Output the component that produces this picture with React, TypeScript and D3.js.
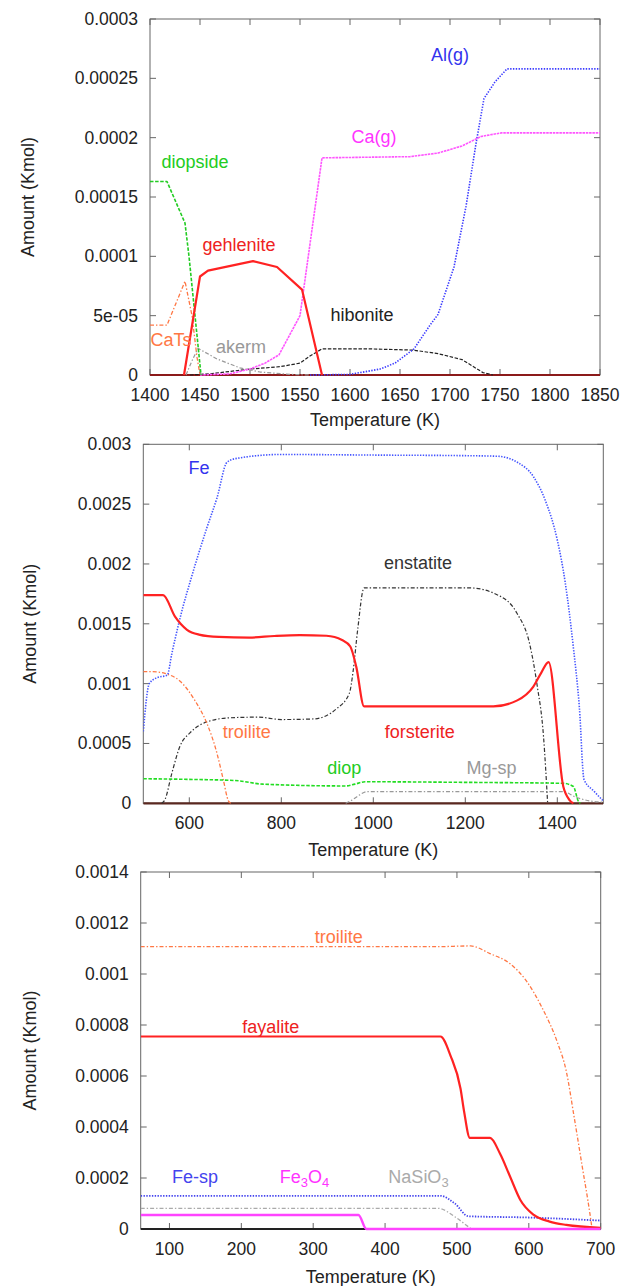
import React from 'react';
import * as d3 from 'd3';

type Pt = [number, number];

// ---------- Top panel (1400-1850 K) ----------
const topXTicks = [1400, 1450, 1500, 1550, 1600, 1650, 1700, 1750, 1800, 1850];
const topYTicks = [0, 5e-5, 1e-4, 1.5e-4, 2e-4, 2.5e-4, 3e-4];
const topYTickLabels = ['0', '5e-05', '0.0001', '0.00015', '0.0002', '0.00025', '0.0003'];

const topAlG: Pt[] = [[1560, 0], [1600, 5e-7], [1630, 5e-6], [1645, 1e-5], [1664, 2.2e-5], [1680, 4.2e-5], [1688, 5.1e-5], [1704, 9.1e-5], [1716, 1.42e-4], [1726, 1.95e-4], [1734, 2.33e-4], [1745, 2.47e-4], [1757, 2.58e-4], [1850, 2.58e-4]];
const topCaG: Pt[] = [[1450, 0], [1480, 1e-6], [1500, 5e-6], [1515, 1e-5], [1529, 1.7e-5], [1550, 5e-5], [1572, 1.83e-4], [1660, 1.84e-4], [1688, 1.87e-4], [1712, 1.93e-4], [1731, 2.01e-4], [1751, 2.04e-4], [1850, 2.04e-4]];
const topDiopside: Pt[] = [[1400, 1.63e-4], [1417, 1.63e-4], [1435, 1.28e-4], [1439, 1.0e-4], [1445, 5e-5], [1451, 0]];
const topCaTs: Pt[] = [[1400, 4.2e-5], [1417, 4.2e-5], [1435, 7.9e-5], [1442, 5e-5], [1447, 1.5e-5], [1450, 0]];
const topGehlenite: Pt[] = [[1434, 0], [1450, 8.3e-5], [1458, 8.8e-5], [1503, 9.6e-5], [1527, 9.1e-5], [1552, 7.2e-5], [1572, 0]];
const topAkerm: Pt[] = [[1436, 0], [1442, 1.2e-5], [1448, 2.25e-5], [1467, 1.35e-5], [1490, 6e-6], [1510, 2.5e-6], [1540, 5e-7], [1560, 0]];
const topHibonite: Pt[] = [[1440, 0], [1460, 1e-6], [1480, 3e-6], [1500, 5e-6], [1530, 7e-6], [1550, 1e-5], [1560, 1.6e-5], [1572, 2.2e-5], [1620, 2.2e-5], [1663, 2.1e-5], [1688, 1.8e-5], [1712, 1.3e-5], [1733, 2e-6], [1743, 0]];

// ---------- Middle panel (500-1500 K) ----------
const midXTicks = [600, 800, 1000, 1200, 1400];
const midYTicks = [0, 5e-4, 1e-3, 1.5e-3, 2e-3, 2.5e-3, 3e-3];
const midYTickLabels = ['0', '0.0005', '0.001', '0.0015', '0.002', '0.0025', '0.003'];

const midFe: Pt[] = [[500, 6.0e-4], [513, 1.0e-3], [530, 1.05e-3], [552, 1.07e-3], [562, 1.25e-3], [580, 1.55e-3], [604, 1.88e-3], [638, 2.3e-3], [660, 2.55e-3], [682, 2.85e-3], [700, 2.88e-3], [800, 2.915e-3], [1000, 2.91e-3], [1200, 2.905e-3], [1270, 2.9e-3], [1313, 2.85e-3], [1348, 2.73e-3], [1374, 2.53e-3], [1400, 2.2e-3], [1417, 1.85e-3], [1435, 1.3e-3], [1448, 8e-4], [1458, 2e-4], [1480, 1e-4], [1500, 2e-5]];
const midForsterite: Pt[] = [[500, 1.74e-3], [543, 1.74e-3], [569, 1.56e-3], [595, 1.45e-3], [621, 1.41e-3], [664, 1.39e-3], [730, 1.385e-3], [785, 1.398e-3], [840, 1.405e-3], [898, 1.4e-3], [932, 1.365e-3], [950, 1.31e-3], [963, 1.14e-3], [980, 8.1e-4], [1261, 8.1e-4], [1313, 8.6e-4], [1348, 9.75e-4], [1365, 1.09e-3], [1381, 1.18e-3], [1413, 1.4e-4], [1427, 2.5e-5], [1435, 0]];
const midTroilite: Pt[] = [[500, 1.1e-3], [520, 1.1e-3], [547, 1.085e-3], [580, 1.02e-3], [612, 8.6e-4], [638, 6.7e-4], [660, 4.2e-4], [674, 1.95e-4], [685, 2e-5], [690, 0]];
const midEnstatite: Pt[] = [[540, 0], [547, 3e-5], [562, 2.5e-4], [580, 4.8e-4], [602, 5.9e-4], [638, 6.8e-4], [690, 7.15e-4], [750, 7.2e-4], [800, 7.0e-4], [870, 7.05e-4], [920, 7.9e-4], [948, 9.2e-4], [956, 1.1e-3], [966, 1.45e-3], [980, 1.8e-3], [1210, 1.8e-3], [1268, 1.745e-3], [1312, 1.59e-3], [1340, 1.33e-3], [1356, 9.9e-4], [1370, 5.6e-4], [1379, 0]];
const midDiop: Pt[] = [[500, 2.05e-4], [600, 2.0e-4], [700, 1.9e-4], [760, 1.6e-4], [940, 1.45e-4], [960, 1.6e-4], [982, 1.8e-4], [1200, 1.75e-4], [1413, 1.67e-4], [1435, 1.4e-4], [1446, 1.5e-5], [1450, 0]];
const midMgSp: Pt[] = [[940, 0], [955, 3e-5], [970, 7e-5], [986, 9.7e-5], [1413, 9.7e-5], [1438, 5.5e-5], [1470, 2e-5], [1500, 1e-5]];

// ---------- Bottom panel (60-700 K) ----------
const botXTicks = [100, 200, 300, 400, 500, 600, 700];
const botYTicks = [0, 2e-4, 4e-4, 6e-4, 8e-4, 1e-3, 1.2e-3, 1.4e-3];
const botYTickLabels = ['0', '0.0002', '0.0004', '0.0006', '0.0008', '0.001', '0.0012', '0.0014'];

const botTroilite: Pt[] = [[60, 1.107e-3], [300, 1.107e-3], [470, 1.107e-3], [519, 1.11e-3], [546, 1.08e-3], [574, 1.04e-3], [596, 9.75e-4], [618, 8.7e-4], [640, 7.3e-4], [652, 6.2e-4], [663, 4.4e-4], [674, 2.5e-4], [685, 6e-5], [688, 0]];
const botFayalite: Pt[] = [[60, 7.55e-4], [477, 7.55e-4], [491, 6.8e-4], [505, 5.5e-4], [510, 4.6e-4], [518, 3.57e-4], [546, 3.57e-4], [560, 2.95e-4], [574, 2.05e-4], [588, 1.15e-4], [607, 5.5e-5], [629, 2.9e-5], [652, 1.6e-5], [700, 5e-6]];
const botFeSp: Pt[] = [[60, 1.3e-4], [477, 1.3e-4], [497, 1.0e-4], [516, 5e-5], [600, 4.5e-5], [700, 3.3e-5]];
const botNaSiO3: Pt[] = [[60, 8.1e-5], [474, 8.1e-5], [497, 4.8e-5], [513, 1.5e-5], [520, 0]];
const botFe3O4: Pt[] = [[60, 5.5e-5], [363, 5.5e-5], [374, 0], [700, 0]];

type Series = { data: Pt[]; color: string; width: number; dash?: string };
type Label = { text: React.ReactNode; t: number; v: number; color: string };

type PanelProps = {
  x0: number; x1: number; y0: number; y1: number;
  xDomain: [number, number]; yDomain: [number, number];
  xTicks: number[]; yTicks: number[]; yTickLabels: string[];
  series: Series[]; labels: Label[];
  smooth: boolean; baseColor: string; yTitleX: number; xTitleY: number;
};

const FONT = '"Liberation Sans", Arial, Helvetica, sans-serif';
const DOT = '1.4,1.4';
const DASH = '3.5,1.6';
const DASHDOT = '4,2,1.4,2';

function Panel(p: PanelProps) {
  const x = d3.scaleLinear().domain(p.xDomain).range([p.x0, p.x1]);
  const y = d3.scaleLinear().domain(p.yDomain).range([p.y1, p.y0]);
  const line = d3.line<Pt>().x(d => x(d[0])).y(d => y(d[1]))
    .curve(p.smooth ? d3.curveMonotoneX : d3.curveLinear);
  const tl = 6;
  const border = '#666';
  const cx = (p.x0 + p.x1) / 2;
  const cy = (p.y0 + p.y1) / 2;
  const id = `clip${Math.round(p.y0)}`;
  return (
    <g>
      <defs>
        <clipPath id={id}>
          <rect x={p.x0} y={p.y0 - 2} width={p.x1 - p.x0} height={p.y1 - p.y0 + 4} />
        </clipPath>
      </defs>
      <rect x={p.x0} y={p.y0} width={p.x1 - p.x0} height={p.y1 - p.y0} fill="none" stroke={border} strokeWidth={1} />
      {p.xTicks.map(t => (
        <g key={'xt' + t}>
          <line x1={x(t)} x2={x(t)} y1={p.y1} y2={p.y1 - tl} stroke={border} />
          <line x1={x(t)} x2={x(t)} y1={p.y0} y2={p.y0 + tl} stroke={border} />
          <text x={x(t)} y={p.y1 + 20} textAnchor="middle" dominantBaseline="central" fontSize={17.5} fill="#222" fontFamily={FONT}>{t}</text>
        </g>
      ))}
      {p.yTicks.map((t, i) => (
        <g key={'yt' + i}>
          <line x1={p.x0} x2={p.x0 + tl} y1={y(t)} y2={y(t)} stroke={border} />
          <line x1={p.x1} x2={p.x1 - tl} y1={y(t)} y2={y(t)} stroke={border} />
          <text x={p.x0 - 12} y={y(t)} textAnchor="end" dominantBaseline="central" fontSize={17.5} fill="#222" fontFamily={FONT}>{p.yTickLabels[i]}</text>
        </g>
      ))}
      <text x={cx} y={p.xTitleY} textAnchor="middle" dominantBaseline="central" fontSize={18} fill="#222" fontFamily={FONT}>Temperature (K)</text>
      <text transform={`translate(${p.yTitleX},${cy}) rotate(-90)`} textAnchor="middle" dominantBaseline="central" fontSize={18} fill="#222" fontFamily={FONT}>Amount (Kmol)</text>
      <g clipPath={`url(#${id})`}>
        <line x1={p.x0} x2={p.x1} y1={y(0)} y2={y(0)} stroke={p.baseColor} strokeWidth={2.2} />
        {p.series.map((s, i) => (
          <path key={'s' + i} d={line(s.data) || ''} fill="none" stroke={s.color} strokeWidth={s.width} strokeDasharray={s.dash} strokeLinejoin="round" />
        ))}
      </g>
      {p.labels.map((l, i) => (
        <text key={'l' + i} x={x(l.t)} y={y(l.v)} textAnchor="middle" dominantBaseline="central" fontSize={18} fill={l.color} fontFamily={FONT}>{l.text}</text>
      ))}
    </g>
  );
}

export default function App() {
  const topSeries: Series[] = [
    { data: topHibonite, color: '#222', width: 1.2, dash: DASH },
    { data: topAkerm, color: '#999', width: 1.2, dash: DASHDOT },
    { data: topCaTs, color: '#ff7744', width: 1.3, dash: DASHDOT },
    { data: topAlG, color: '#3b3bff', width: 1.6, dash: DOT },
    { data: topCaG, color: '#ff55ff', width: 1.6, dash: '2.5,0.8' },
    { data: topDiopside, color: '#22cc22', width: 1.6, dash: DASH },
    { data: topGehlenite, color: '#ff2222', width: 2.2 },
  ];
  const topLabels: Label[] = [
    { text: 'Al(g)', t: 1700, v: 2.697e-4, color: '#3333ee' },
    { text: 'Ca(g)', t: 1624, v: 2.008e-4, color: '#ff33ff' },
    { text: 'diopside', t: 1445, v: 1.797e-4, color: '#22cc22' },
    { text: 'gehlenite', t: 1489, v: 1.096e-4, color: '#ee2222' },
    { text: 'hibonite', t: 1612, v: 5.06e-5, color: '#222' },
    { text: 'CaTs', t: 1421, v: 2.95e-5, color: '#ff7744' },
    { text: 'akerm', t: 1491, v: 2.39e-5, color: '#999' },
  ];
  const midSeries: Series[] = [
    { data: midMgSp, color: '#999', width: 1.2, dash: DASHDOT },
    { data: midEnstatite, color: '#333', width: 1.2, dash: DASHDOT },
    { data: midTroilite, color: '#ff7744', width: 1.3, dash: DASHDOT },
    { data: midDiop, color: '#22dd22', width: 1.6, dash: DASH },
    { data: midFe, color: '#4455ff', width: 1.6, dash: DOT },
    { data: midForsterite, color: '#ff2222', width: 2.2 },
  ];
  const midLabels: Label[] = [
    { text: 'Fe', t: 621, v: 2.8e-3, color: '#3333ee' },
    { text: 'enstatite', t: 1097, v: 2.006e-3, color: '#333' },
    { text: 'troilite', t: 725, v: 5.98e-4, color: '#ff7744' },
    { text: 'forsterite', t: 1101, v: 5.98e-4, color: '#ee2222' },
    { text: 'diop', t: 937, v: 2.92e-4, color: '#22cc22' },
    { text: 'Mg-sp', t: 1257, v: 2.92e-4, color: '#999' },
  ];
  const botSeries: Series[] = [
    { data: botNaSiO3, color: '#aaa', width: 1.3, dash: DASHDOT },
    { data: botFeSp, color: '#4444ee', width: 1.8, dash: DOT },
    { data: botTroilite, color: '#ff7744', width: 1.3, dash: DASHDOT },
    { data: botFayalite, color: '#ff2222', width: 2.2 },
    { data: botFe3O4, color: '#ff44ff', width: 2.4 },
  ];
  const sub = (s: string) => <tspan dy={5} fontSize={13}>{s}</tspan>;
  const botLabels: Label[] = [
    { text: 'troilite', t: 335.5, v: 1.146e-3, color: '#ff7744' },
    { text: 'fayalite', t: 241, v: 7.93e-4, color: '#ee2222' },
    { text: 'Fe-sp', t: 135.7, v: 2.05e-4, color: '#4444ee' },
    { text: <>Fe{sub('3')}<tspan dy={-5}>O</tspan>{sub('4')}</>, t: 288, v: 2.05e-4, color: '#ff33ff' },
    { text: <>NaSiO{sub('3')}</>, t: 446.5, v: 2.05e-4, color: '#aaa' },
  ];
  return (
    <svg width={624} height={1286} style={{ position: 'absolute', left: 0, top: 0, display: 'block', background: '#fff' }}>
      <rect width={624} height={1286} fill="#fff" />
      <Panel x0={150} x1={600} y0={19} y1={375} xDomain={[1400, 1850]} yDomain={[0, 3e-4]}
        xTicks={topXTicks} yTicks={topYTicks} yTickLabels={topYTickLabels}
        series={topSeries} labels={topLabels} smooth={false} baseColor="#8b1a1a" yTitleX={28} xTitleY={420} />
      <Panel x0={143.3} x1={603.3} y0={444.3} y1={803.3} xDomain={[500, 1500]} yDomain={[0, 3e-3]}
        xTicks={midXTicks} yTicks={midYTicks} yTickLabels={midYTickLabels}
        series={midSeries} labels={midLabels} smooth={true} baseColor="#5a2820" yTitleX={30} xTitleY={850} />
      <Panel x0={140.7} x1={600.7} y0={872} y1={1229} xDomain={[60, 700]} yDomain={[0, 1.4e-3]}
        xTicks={botXTicks} yTicks={botYTicks} yTickLabels={botYTickLabels}
        series={botSeries} labels={botLabels} smooth={true} baseColor="#222" yTitleX={30} xTitleY={1277} />
    </svg>
  );
}
